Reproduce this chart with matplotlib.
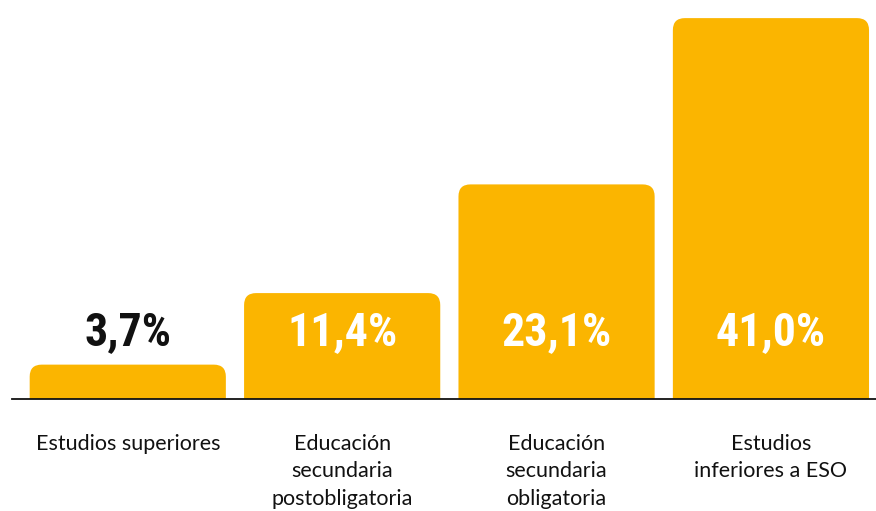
import matplotlib
matplotlib.use("Agg")
import matplotlib.pyplot as plt
from matplotlib.patches import FancyBboxPatch

categories = ["Estudios superiores",
              "Educación\nsecundaria\npostobligatoria",
              "Educación\nsecundaria\nobligatoria",
              "Estudios\ninferiores a ESO"]
values = [3.7, 11.4, 23.1, 41.0]
value_labels = ["3,7%", "11,4%", "23,1%", "41,0%"]

BAR_COLOR = "#FBB500"
W, H, DPI = 876, 511, 100

fig = plt.figure(figsize=(W / DPI, H / DPI), dpi=DPI)
ax = fig.add_axes([12 / W, (H - 399) / H, (W - 12) / W, 399 / H])

x = list(range(len(values)))
bars = ax.bar(x, values, width=0.915, color=BAR_COLOR)
ax.set_xlim(-0.54, 3.49)
ax.set_ylim(0, 42.95)

p0 = ax.transData.transform((0, 0))
p1 = ax.transData.transform((1, 1))
x_per_px = 1 / (p1[0] - p0[0])
y_per_px = 1 / (p1[1] - p0[1])
aspect = y_per_px / x_per_px
r_px = 12
r = r_px * x_per_px

for b in bars:
    b.set_visible(False)
    bx, by = b.get_x(), b.get_y()
    bw, bh = b.get_width(), b.get_height()
    ext = r_px * y_per_px * 2
    patch = FancyBboxPatch((bx, by - ext), bw, bh + ext,
                           boxstyle=f"round,pad=0,rounding_size={r}",
                           mutation_aspect=aspect,
                           facecolor=BAR_COLOR, edgecolor="none")
    ax.add_patch(patch)

label_y = (399 - 345) * y_per_px
for xi, v, lab in zip(x, values, value_labels):
    col = "white" if v > 8 else "#111111"
    ax.text(xi, label_y, lab, ha="center", va="baseline", color=col,
            fontsize=33, fontweight="bold", family="Roboto Condensed")

ax.set_xticks(x)
ax.set_xticklabels(categories, fontsize=15.5, family="Lato",
                   linespacing=1.48, color="#111111")
ax.tick_params(axis="x", length=0, pad=25)
ax.set_yticks([])
for s in ["top", "right", "left"]:
    ax.spines[s].set_visible(False)
ax.spines["bottom"].set_linewidth(1.3)
ax.spines["bottom"].set_color("#111111")

fig.savefig("out.png", dpi=DPI)
